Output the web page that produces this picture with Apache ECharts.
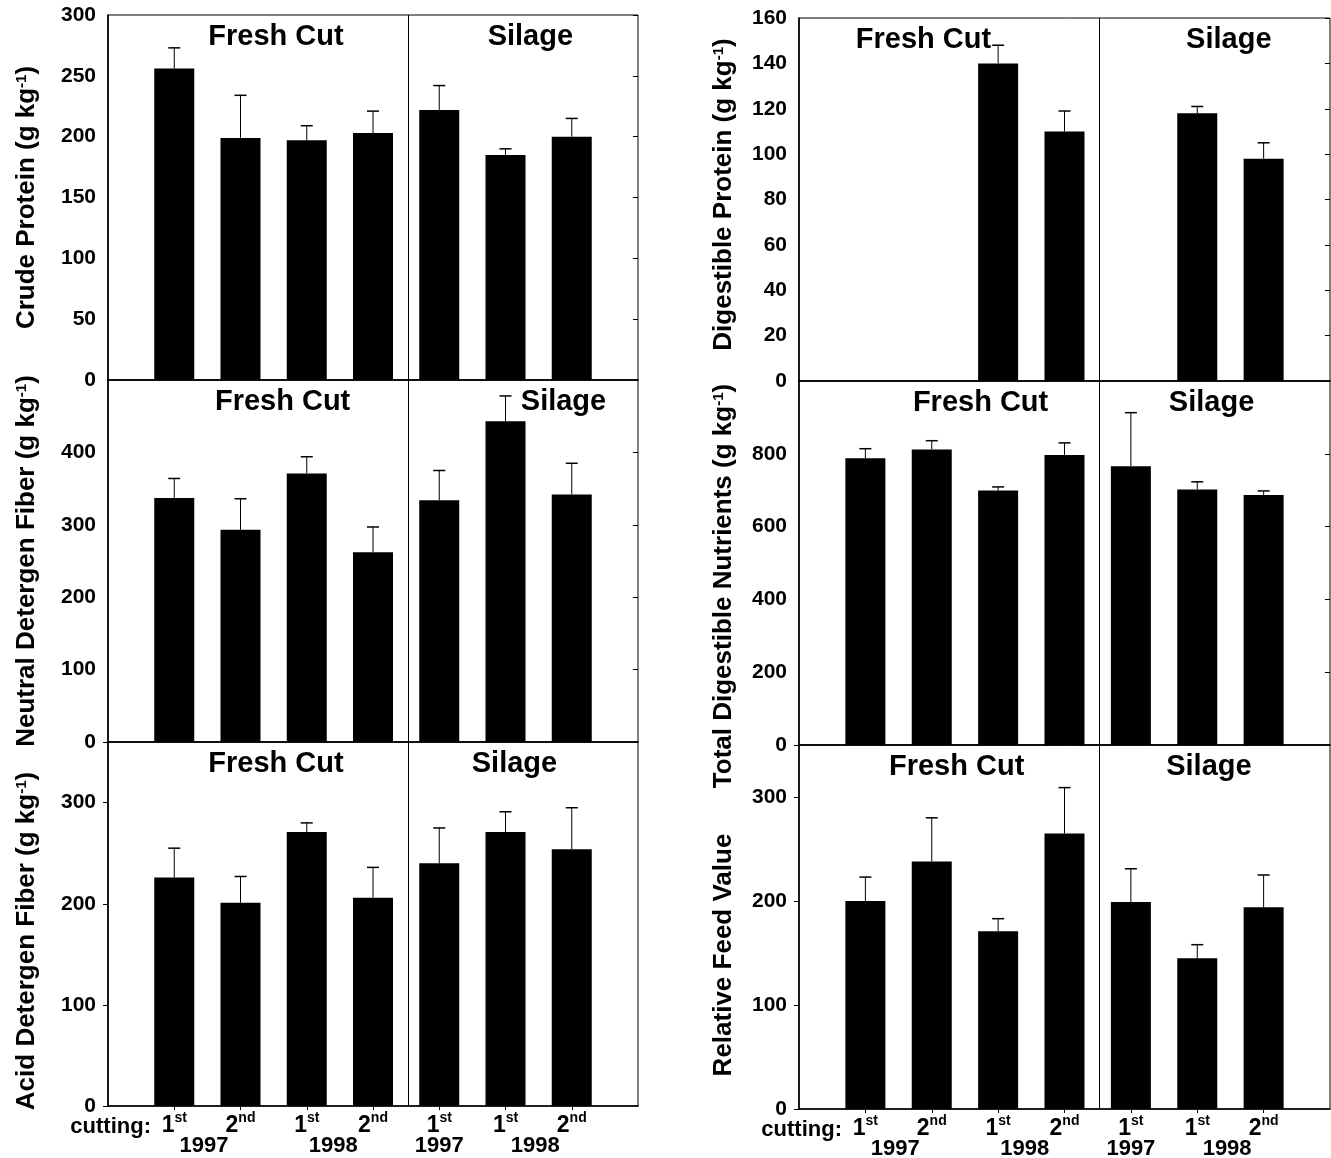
<!DOCTYPE html>
<html>
<head>
<meta charset="utf-8">
<script src="https://cdn.jsdelivr.net/npm/echarts@6/dist/echarts.min.js"></script>
<style>
html,body{margin:0;padding:0;background:#fff;}
#chart{width:1331px;height:1158px;}
</style>
</head>
<body>
<div id="chart"></div>
<script>
// ---------- data ----------
const xPositions = [1, 2, 3, 4, 5, 6, 7];
const cuttingNums = ['1', '2', '1', '2', '1', '1', '2'];
const cuttingSuffix = ['st', 'nd', 'st', 'nd', 'st', 'st', 'nd'];
const yearLabels = ['1997', '1998', '1997', '1998'];
const yearPositions = [1.45, 3.4, 5, 6.45];
const sectionNames = ['Fresh Cut', 'Silage'];

const crudeProtein = [256, 199, 197, 203, 222, 185, 200];
const crudeProteinErr = [17, 35, 12, 18, 20, 5, 15];
const digestibleProtein = [null, null, 140, 110, null, 118, 98];
const digestibleProteinErr = [null, null, 8, 9, null, 3, 7];
const ndf = [337, 293, 371, 262, 334, 443, 342];
const ndfErr = [27, 43, 23, 35, 41, 35, 43];
const tdn = [788, 812, 699, 797, 766, 702, 687];
const tdnErr = [26, 24, 10, 33, 147, 21, 11];
const adf = [226, 201, 271, 206, 240, 271, 254];
const adfErr = [29, 26, 9, 30, 35, 20, 41];
const rfv = [200, 238, 171, 265, 199, 145, 194];
const rfvErr = [23, 42, 12, 44, 32, 13, 31];

const dividerX = 4.53;

// ---------- layout ----------
const NARROW = '"Liberation Sans Narrow", "Arial Narrow", "Liberation Sans", Arial, sans-serif';
const SANS = '"Liberation Sans", Arial, Helvetica, sans-serif';

const colGeom = [{left: 108, width: 530}, {left: 799, width: 531}];
const rowGeom = [
  [{top: 15, height: 365}, {top: 380, height: 362}, {top: 742, height: 364}],
  [{top: 18, height: 363}, {top: 381, height: 364}, {top: 745, height: 364}]
];

const panels = [
  {col: 0, row: 0, name: 'Crude Protein (g kg{sup|-1})', vals: crudeProtein, errs: crudeProteinErr, max: 300, interval: 50, hideMax: false, secX: [2.46, 6.3], nameShift: 0},
  {col: 0, row: 1, name: 'Neutral Detergen Fiber (g kg{sup|-1})', vals: ndf, errs: ndfErr, max: 500, interval: 100, hideMax: true, secX: [2.56, 6.8], nameShift: 0},
  {col: 0, row: 2, name: 'Acid Detergen Fiber (g kg{sup|-1})', vals: adf, errs: adfErr, max: 360, interval: 100, hideMax: true, secX: [2.46, 6.06], nameShift: 17},
  {col: 1, row: 0, name: 'Digestible Protein (g kg{sup|-1})', vals: digestibleProtein, errs: digestibleProteinErr, max: 160, interval: 20, hideMax: false, secX: [1.8, 6.4], nameShift: -5},
  {col: 1, row: 1, name: 'Total Digestible Nutrients (g kg{sup|-1})', vals: tdn, errs: tdnErr, max: 1000, interval: 200, hideMax: true, secX: [2.66, 6.14], nameShift: 23},
  {col: 1, row: 2, name: 'Relative Feed Value', vals: rfv, errs: rfvErr, max: 350, interval: 100, hideMax: true, secX: [2.3, 6.1], nameShift: 28}
];

const grid = [], xAxis = [], yAxis = [], series = [], title = [];

panels.forEach((p, gi) => {
  const cg = colGeom[p.col];
  const rg = rowGeom[p.col][p.row];
  grid.push({
    left: cg.left, top: rg.top, width: cg.width, height: rg.height,
    show: true, borderColor: '#000', borderWidth: 1, backgroundColor: 'transparent',
    containLabel: false, outerBoundsMode: 'none'
  });
  const isBottom = p.row === 2;
  const xi = xAxis.length;
  xAxis.push({
    type: 'value', gridIndex: gi, min: 0, max: 8, position: 'bottom',
    name: isBottom ? 'cutting:' : '',
    nameLocation: 'start', nameGap: -43, nameMoveOverlap: false,
    nameTextStyle: {fontFamily: NARROW, fontWeight: 'bold', fontSize: 22, color: '#000', align: 'right', verticalAlign: 'top', padding: [10, 0, 0, 0]},
    axisLine: {show: true, onZero: false, lineStyle: {color: '#000', width: 1.6}},
    axisTick: isBottom ? {show: true, inside: false, length: 4, customValues: xPositions, lineStyle: {color: '#000', width: 1}} : {show: false},
    axisLabel: isBottom ? {
      show: true, customValues: xPositions, margin: 5, hideOverlap: false,
      formatter: v => {
        const i = xPositions.indexOf(v);
        return i < 0 ? '' : '{n|' + cuttingNums[i] + '}{s|' + cuttingSuffix[i] + '}';
      },
      rich: {
        n: {fontFamily: NARROW, fontWeight: 'bold', fontSize: 23, color: '#000', lineHeight: 30, verticalAlign: 'middle'},
        s: {fontFamily: NARROW, fontWeight: 'bold', fontSize: 14, color: '#000', verticalAlign: 'top', lineHeight: 14}
      }
    } : {show: false},
    splitLine: {show: false}
  });
  if (isBottom) {
    xAxis.push({
      type: 'value', gridIndex: gi, min: 0, max: 8, position: 'bottom', offset: 27,
      axisLine: {show: false}, axisTick: {show: false}, splitLine: {show: false},
      axisLabel: {
        show: true, customValues: yearPositions, margin: 2,
        fontFamily: NARROW, fontWeight: 'bold', fontSize: 22, color: '#000',
        formatter: v => {
          const i = yearPositions.findIndex(q => Math.abs(q - v) < 1e-6);
          return i < 0 ? '' : yearLabels[i];
        }
      }
    });
  }
  const yi = yAxis.length;
  const padShift = p.nameShift >= 0 ? [0, 2 * p.nameShift, 0, 0] : [0, 0, 0, -2 * p.nameShift];
  yAxis.push({
    type: 'value', gridIndex: gi, min: 0, max: p.max, interval: p.interval, position: 'left',
    name: p.name, nameLocation: 'middle', nameGap: p.col === 0 ? 68 : 62, nameRotate: 90, nameMoveOverlap: false,
    nameTextStyle: {
      fontFamily: SANS, fontWeight: 'bold', fontSize: 26, color: '#000', padding: padShift,
      rich: {sup: {fontFamily: SANS, fontWeight: 'bold', fontSize: 15, color: '#000', verticalAlign: 'top'}}
    },
    axisLine: {show: true, lineStyle: {color: '#000', width: 1.6}},
    axisTick: {show: false},
    axisLabel: {show: true, margin: 12, fontFamily: NARROW, fontWeight: 'bold', fontSize: 21, color: '#000', showMaxLabel: !p.hideMax},
    splitLine: {show: false}
  });
  yAxis.push({
    type: 'value', gridIndex: gi, min: 0, max: p.max, interval: p.interval, position: 'right',
    axisLine: {show: false},
    axisTick: {show: true, inside: true, length: 5, lineStyle: {color: '#000', width: 1}},
    axisLabel: {show: false}, splitLine: {show: false}
  });
  const barData = xPositions.map((x, i) => [x, p.vals[i]]);
  const errData = xPositions.map((x, i) => [x, p.vals[i], p.errs[i]]);
  series.push({
    type: 'bar', xAxisIndex: xi, yAxisIndex: yi, barWidth: 40,
    itemStyle: {color: '#000'}, data: barData, silent: true, animation: false,
    markLine: {
      silent: true, symbol: 'none', label: {show: false}, animation: false,
      lineStyle: {color: '#000', width: 1, type: 'solid'},
      data: [{xAxis: dividerX}]
    }
  });
  series.push({
    type: 'custom', xAxisIndex: xi, yAxisIndex: yi, data: errData, animation: false, silent: true,
    renderItem: (params, api) => {
      const v = api.value(1), e = api.value(2);
      if (v == null || isNaN(v) || e == null || isNaN(e)) return null;
      const p0 = api.coord([api.value(0), v]);
      const p1 = api.coord([api.value(0), v + e]);
      return {
        type: 'group',
        children: [
          {type: 'line', shape: {x1: p0[0], y1: p0[1], x2: p1[0], y2: p1[1]}, style: {stroke: '#000', lineWidth: 1}},
          {type: 'line', shape: {x1: p1[0] - 6, y1: p1[1], x2: p1[0] + 6, y2: p1[1]}, style: {stroke: '#000', lineWidth: 1.5}}
        ]
      };
    }
  });
  // section titles positioned from axis fraction
  p.secX.forEach((sx, k) => {
    title.push({
      text: sectionNames[k],
      left: cg.left + sx / 8 * cg.width, top: rg.top + 2, textAlign: 'center',
      textStyle: {fontFamily: SANS, fontWeight: 'bold', fontSize: 29, color: '#000'}
    });
  });
});

const chart = echarts.init(document.getElementById('chart'), null, {renderer: 'canvas'});
chart.setOption({
  backgroundColor: '#fff',
  animation: false,
  title, grid, xAxis, yAxis, series
});
</script>
</body>
</html>
